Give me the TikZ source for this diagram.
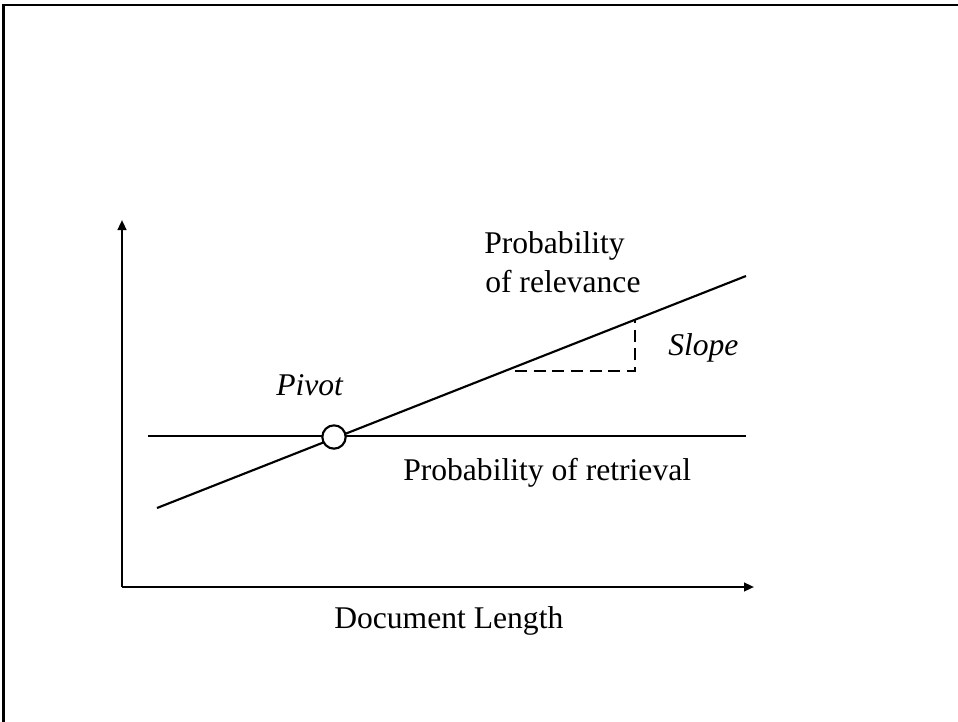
\documentclass[tikz,border=0pt]{standalone}
\usepackage{fontspec}
\setmainfont{Liberation Serif}
\usetikzlibrary{arrows.meta}
\begin{document}
\begin{tikzpicture}[x=0.75pt,y=-0.75pt,
  ln/.style={line width=1.6pt},
  axis/.style={ln,-{Triangle[length=7.5pt,width=6.5pt]}},
  lbl/.style={anchor=base west,inner sep=0pt,font=\fontsize{23.7}{30}\selectfont},
  pivotc/.style={circle,draw,line width=1.6pt,fill=white,minimum size=17.5pt,inner sep=0pt}]
\useasboundingbox (0,0) rectangle (958,722);
% frame (only top and left edges visible)
\coordinate (ftr) at (958,5);
\coordinate (ftl) at (3.5,5);
\coordinate (fbl) at (3.5,722);
\draw[ln] (ftr) -- (ftl) -- (fbl);
% axes
\coordinate (o) at (122,587);
\coordinate (ytip) at (122,220);
\coordinate (xtip) at (754,587);
\draw[axis] (o) -- (ytip);
\draw[axis] (o) -- (xtip);
% retrieval line
\coordinate (r1) at (148,436);
\coordinate (r2) at (746,436);
\draw[ln] (r1) -- (r2);
% relevance line
\coordinate (p1) at (157,508);
\coordinate (p2) at (746,276);
\draw[ln] (p1) -- (p2);
% slope triangle
\coordinate (s1) at (515,371);
\coordinate (s2) at (635,371);
\coordinate (s3) at (635,320);
\draw[ln,dashed,dash pattern=on 9pt off 5pt,line width=1.3pt] (s1) -- (s2) -- (s3);
% pivot
\node[pivotc] (pivot) at (334,437) {};
% labels
\node[lbl] (rel1) at (484,253) {Probability};
\node[lbl] (rel2) at (485,292) {of relevance};
\node[lbl] (slope) at (668,355) {\itshape Slope};
\node[lbl] (piv) at (276,395) {\itshape Pivot};
\node[lbl] (ret) at (403,480) {Probability of retrieval};
\node[lbl] (doc) at (334,628) {Document Length};
\end{tikzpicture}
\end{document}
